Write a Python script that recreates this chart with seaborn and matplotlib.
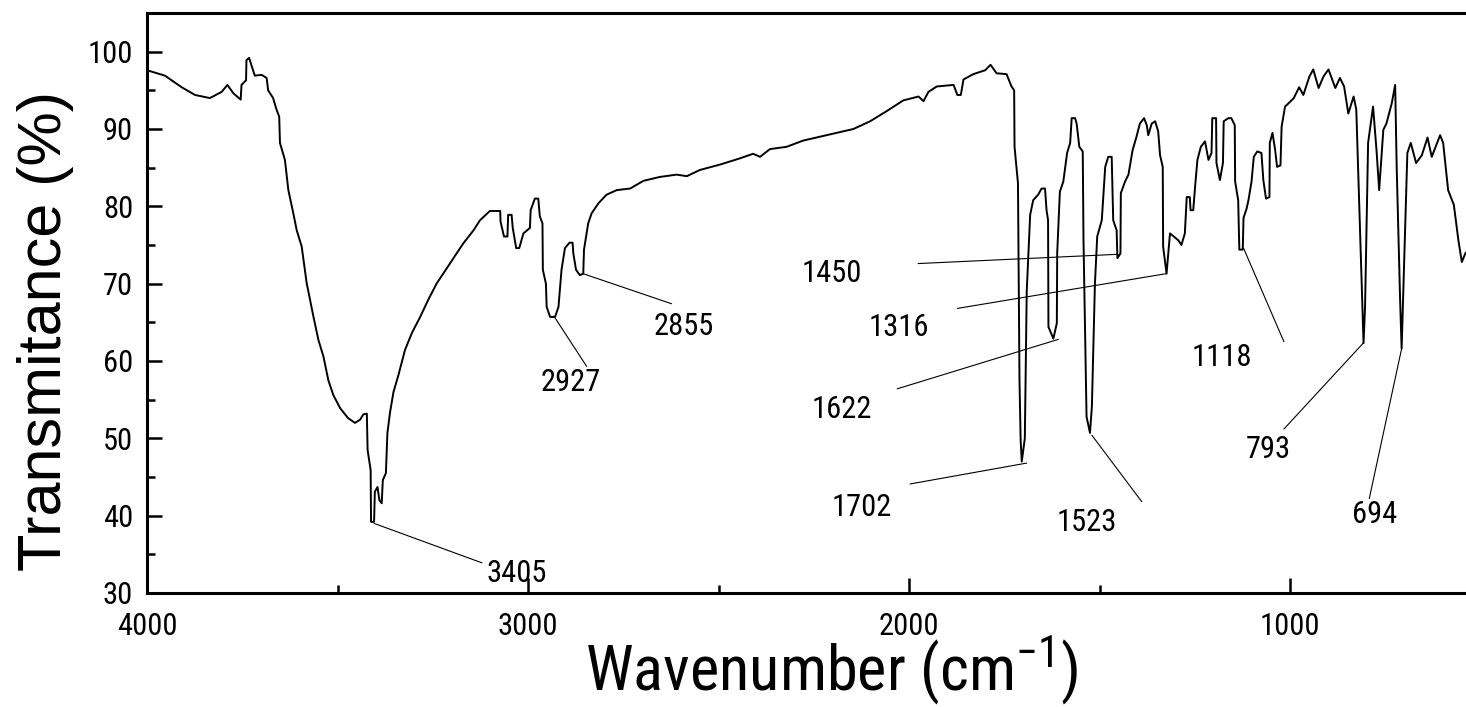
import matplotlib
matplotlib.use("Agg")
import matplotlib.pyplot as plt
from matplotlib import font_manager
from matplotlib.ticker import MultipleLocator
import pandas as pd
import seaborn as sns

# espectro IR: número de onda (cm-1) y transmitancia (%)
wavenumber = [
    4000, 3953, 3909, 3874, 3835, 3804, 3789, 3773, 3754, 3752, 3740, 3739, 3732, 3725,
    3717, 3699, 3686, 3682, 3669, 3660, 3653, 3651, 3638, 3629, 3616, 3607, 3594, 3581,
    3563, 3550, 3537, 3524, 3511, 3493, 3472, 3454, 3441, 3432, 3423, 3421, 3413, 3412,
    3404, 3402, 3395, 3390, 3384, 3381, 3373, 3369, 3362, 3353, 3340, 3323, 3305, 3283,
    3262, 3240, 3213, 3187, 3170, 3143, 3126, 3100, 3073, 3072, 3063, 3054, 3052, 3043,
    3040, 3031, 3023, 3012, 2995, 2993, 2982, 2973, 2969, 2962, 2961, 2953, 2951, 2942,
    2929, 2920, 2912, 2903, 2891, 2883, 2881, 2874, 2864, 2855, 2853, 2842, 2833, 2815,
    2794, 2767, 2732, 2697, 2654, 2610, 2583, 2549, 2496, 2444, 2409, 2391, 2365, 2321,
    2278, 2234, 2190, 2146, 2102, 2059, 2015, 1975, 1962, 1949, 1927, 1883, 1873, 1864,
    1857, 1831, 1800, 1786, 1770, 1744, 1731, 1724, 1723, 1714, 1710, 1707, 1704, 1696,
    1691, 1682, 1674, 1661, 1652, 1643, 1639, 1635, 1634, 1621, 1612, 1611, 1604, 1595,
    1585, 1577, 1573, 1564, 1560, 1553, 1544, 1542, 1534, 1525, 1520, 1512, 1506, 1494,
    1485, 1477, 1468, 1464, 1455, 1453, 1445, 1444, 1433, 1424, 1413, 1404, 1394, 1383,
    1376, 1372, 1363, 1354, 1346, 1341, 1334, 1333, 1324, 1315, 1305, 1293, 1285, 1276,
    1271, 1263, 1261, 1254, 1249, 1243, 1234, 1223, 1214, 1206, 1204, 1194, 1193, 1184,
    1176, 1174, 1162, 1154, 1145, 1144, 1136, 1133, 1124, 1122, 1114, 1109, 1101, 1095,
    1086, 1075, 1070, 1063, 1054, 1053, 1046, 1039, 1034, 1025, 1022, 1013, 1000, 990,
    976, 965, 949, 939, 925, 912, 899, 881, 869, 858, 847, 833, 826, 816,
    807, 803, 795, 782, 773, 766, 755, 747, 733, 724, 720, 711, 707, 698,
    692, 683, 669, 654, 639, 628, 606, 598, 585, 570, 558, 549, 540, 530,
]
transmitance = [
    97.6, 96.9, 95.4, 94.4, 94.0, 94.8, 95.7, 94.6, 93.8, 95.7, 96.3, 98.9, 99.2, 98.1,
    96.9, 97.0, 96.6, 95.0, 94.0, 92.5, 91.6, 88.2, 86.0, 82.1, 79.1, 76.9, 74.8, 70.1,
    65.7, 62.7, 60.6, 57.5, 55.6, 53.9, 52.6, 52.0, 52.4, 53.1, 53.2, 48.5, 45.9, 39.2,
    39.2, 43.1, 43.7, 42.0, 41.6, 44.6, 45.5, 50.7, 53.4, 56.0, 58.2, 61.4, 63.6, 65.7,
    67.9, 70.0, 72.0, 73.9, 75.2, 76.9, 78.2, 79.4, 79.4, 78.0, 76.1, 76.1, 78.9, 78.9,
    77.2, 74.6, 74.6, 76.5, 77.2, 79.5, 81.0, 81.0, 78.7, 77.8, 71.8, 70.0, 67.0, 65.7,
    65.7, 67.0, 71.8, 74.6, 75.3, 75.3, 73.9, 71.8, 71.1, 71.3, 74.4, 77.8, 79.1, 80.4,
    81.5, 82.1, 82.3, 83.3, 83.8, 84.1, 83.9, 84.7, 85.4, 86.2, 86.8, 86.4, 87.4, 87.7,
    88.5, 89.0, 89.5, 90.0, 91.0, 92.3, 93.7, 94.2, 93.6, 94.8, 95.5, 95.7, 94.4, 94.4,
    96.4, 97.1, 97.6, 98.3, 97.2, 97.1, 95.5, 95.0, 87.7, 83.0, 57.5, 49.8, 47.0, 50.0,
    69.0, 78.9, 80.8, 81.5, 82.3, 82.3, 79.5, 78.2, 64.4, 62.9, 64.9, 74.0, 81.9, 83.2,
    86.9, 88.2, 91.4, 91.4, 90.7, 87.7, 87.1, 75.6, 52.8, 50.7, 54.1, 70.0, 76.1, 78.2,
    85.1, 86.4, 86.4, 78.2, 76.9, 73.3, 73.9, 81.7, 83.2, 84.1, 87.3, 88.8, 90.7, 91.4,
    90.5, 89.2, 90.7, 91.0, 89.7, 86.6, 85.1, 74.8, 71.3, 76.5, 76.1, 75.6, 75.0, 76.5,
    81.2, 81.2, 79.5, 79.5, 82.6, 86.0, 87.7, 88.4, 86.0, 86.9, 91.4, 91.4, 85.6, 83.4,
    85.6, 91.0, 91.4, 91.4, 90.5, 83.2, 80.8, 74.4, 74.4, 78.5, 79.7, 80.8, 83.2, 86.4,
    87.1, 86.9, 83.4, 81.0, 81.2, 88.2, 89.5, 87.3, 85.1, 85.3, 90.3, 92.9, 93.5, 94.0,
    95.4, 94.4, 96.8, 97.7, 95.3, 96.8, 97.7, 95.3, 96.6, 95.5, 92.0, 94.2, 92.5, 76.5,
    62.3, 67.0, 88.2, 92.9, 87.3, 82.1, 89.9, 90.7, 93.3, 95.7, 85.1, 67.9, 61.6, 76.5,
    86.9, 88.2, 85.6, 86.6, 88.9, 86.4, 89.2, 88.2, 82.1, 80.2, 75.6, 72.8, 73.9, 74.5,
]

# bandas marcadas
picos = ["3405", "2927", "2855", "1450", "1316", "1622", "1702", "1523", "1118", "793", "694"]
# donde va cada etiqueta (centro del texto)
etiqueta_x = [3030, 2887, 2591, 2202, 2027, 2176, 2123, 1534, 1179, 1058, 778]
etiqueta_y = [32.5, 57.2, 64.5, 71.25, 64.3, 53.7, 41.0, 39.1, 60.45, 48.6, 40.2]
# líneas guía: desde junto a la etiqueta hasta el pico
linea_x0 = [3121, 2846, 2623, 1976, 1873, 2031, 1997, 1389, 1016, 1016, 792]
linea_y0 = [33.9, 59.3, 67.4, 72.6, 66.8, 56.4, 44.1, 41.8, 62.5, 51.2, 42.2]
linea_x1 = [3404, 2932, 2856, 1451, 1324, 1608, 1691, 1520, 1122, 808, 707]
linea_y1 = [39.0, 65.8, 71.3, 73.8, 71.3, 62.8, 46.8, 50.4, 74.6, 62.3, 61.6]

df = pd.DataFrame({"wn": wavenumber, "T": transmitance})

sns.set_style("ticks")
# fuente estrecha tipo Arial Narrow si la hay
nombres = {f.name for f in font_manager.fontManager.ttflist}
estrecha = "Liberation Sans"
for candidata in ["Liberation Sans Narrow", "Arial Narrow", "Roboto Condensed", "Archivo Narrow"]:
    if candidata in nombres:
        estrecha = candidata
        break
plt.rcParams["font.family"] = [estrecha, "DejaVu Sans"]
plt.rcParams["mathtext.fontset"] = "custom"
plt.rcParams["mathtext.rm"] = estrecha
plt.rcParams["mathtext.it"] = estrecha
plt.rcParams["mathtext.bf"] = estrecha
for clave in ["text.color", "axes.labelcolor", "xtick.color", "ytick.color", "axes.edgecolor"]:
    plt.rcParams[clave] = "black"

fig = plt.figure(figsize=(14.66, 7.07), dpi=100)
ax = fig.add_axes([147 / 1466, 114 / 707, 1333.5 / 1466, 580 / 707])

sns.lineplot(data=df, x="wn", y="T", sort=False, estimator=None, color="black",
             linewidth=1.4, ax=ax)

for i in range(len(picos)):
    ax.plot([linea_x0[i], linea_x1[i]], [linea_y0[i], linea_y1[i]], color="black", linewidth=0.8)
    ax.text(etiqueta_x[i], etiqueta_y[i], picos[i], fontsize=22, ha="center", va="center")

ax.set_xlim(4000, 500)
ax.set_ylim(30, 105)
ax.xaxis.set_major_locator(MultipleLocator(1000))
ax.xaxis.set_minor_locator(MultipleLocator(500))
ax.yaxis.set_major_locator(MultipleLocator(10))
ax.yaxis.set_minor_locator(MultipleLocator(5))
ax.tick_params(which="both", direction="in", top=False, right=False, width=1.8, labelsize=22)
ax.tick_params(which="major", length=11)
ax.tick_params(which="minor", length=6)
ax.tick_params(axis="x", pad=14)
ax.tick_params(axis="y", pad=10)
for lado in ax.spines.values():
    lado.set_linewidth(2.2)

ax.set_xlabel(r"Wavenumber (cm$^{-1}$)", fontsize=45, va="baseline")
ax.xaxis.set_label_coords((832 - 147) / 1333.5, (593 - 690) / 580)
ax.set_ylabel("Transmitance (%)", fontsize=44, family="Liberation Sans", va="center")
ax.yaxis.set_label_coords((46 - 147) / 1333.5, 0.452)

fig.savefig("out.png", dpi=100)
plt.close()
